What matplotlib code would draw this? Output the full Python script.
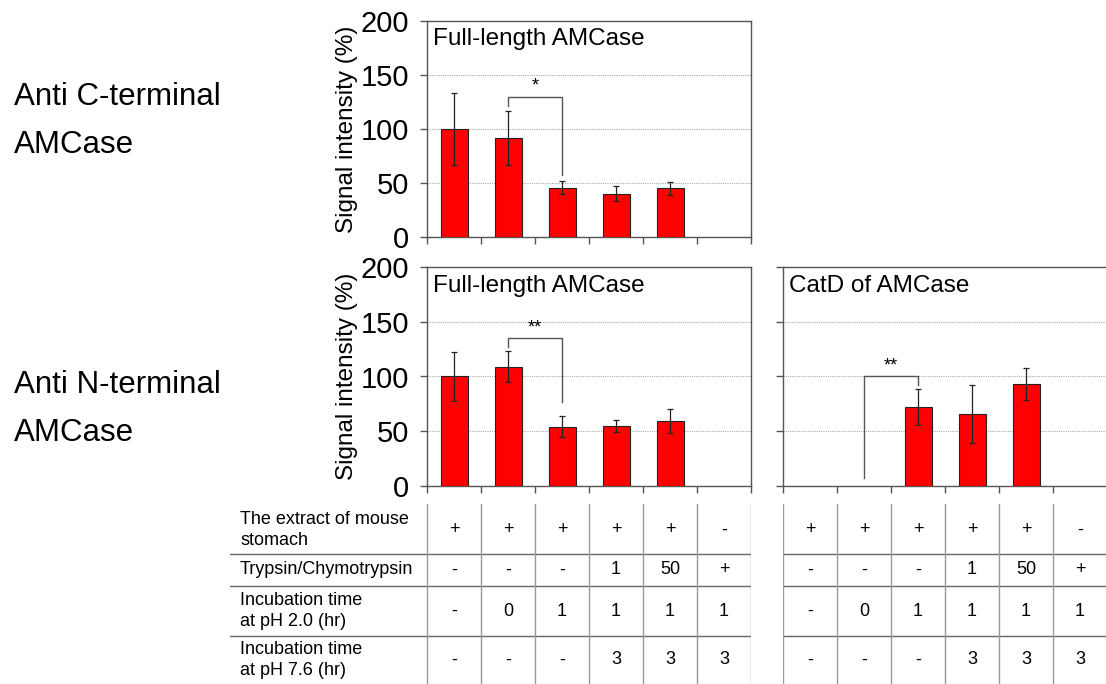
import numpy as np
import matplotlib
matplotlib.use('Agg')
import matplotlib.pyplot as plt

plt.rcParams['font.family'] = ['Liberation Sans', 'DejaVu Sans']

# bar data (signal intensity %, mean and error)
top_vals = [100, 91.5, 45.5, 40, 45, np.nan]
top_err = [33, 25, 6, 7, 6, 0]
mid_vals = [100, 109, 54, 55, 59, np.nan]
mid_err = [22.5, 14, 9.5, 5.5, 11, 0]
catd_vals = [np.nan, np.nan, 72, 65.5, 93, np.nan]
catd_err = [0, 0, 16.5, 26.5, 14.5, 0]

# significance brackets: (x_left, y_left_bottom, x_right, y_right_bottom, y_top, stars)
top_bracket = (1.5, 121, 2.5, 57, 130, '*')
mid_bracket = (1.5, 127, 2.5, 77, 135, '**')
catd_bracket = (1.5, 7, 2.5, 92, 100, '**')

# condition table
row_labels = ['The extract of mouse\nstomach', 'Trypsin/Chymotrypsin',
              'Incubation time\nat pH 2.0 (hr)', 'Incubation time\nat pH 7.6 (hr)']
extract = ['+', '+', '+', '+', '+', '-']
trypsin = ['-', '-', '-', '1', '50', '+']
ph20 = ['-', '0', '1', '1', '1', '1']
ph76 = ['-', '-', '-', '3', '3', '3']
table_rows = [extract, trypsin, ph20, ph76]

W, H = 1106, 684
fig = plt.figure(figsize=(W / 100, H / 100), dpi=100)

def fx(px):
    return px / W

def fy(py):
    return 1 - py / H

spine_col = '#555555'
x = np.arange(6) + 0.5


def bar_panel(rect, vals, errs, title, bracket, ylabels=True):
    ax = fig.add_axes(rect)
    ax.bar(x, vals, width=0.5, color='#ff0000', edgecolor='#222222', linewidth=0.8, zorder=3)
    ax.errorbar(x, vals, yerr=errs, fmt='none', ecolor='#222222', elinewidth=0.9,
                capsize=2, capthick=0.9, zorder=4)
    ax.set_xlim(0, 6)
    ax.set_ylim(0, 200)
    ax.set_xticks(np.arange(7))
    ax.set_xticklabels([])
    ax.set_yticks([0, 50, 100, 150, 200])
    for y in [50, 100, 150]:
        ax.axhline(y, color='#aaaaaa', linestyle=(0, (1, 1)), linewidth=0.8, zorder=1)
    ax.tick_params(direction='out', length=5, width=1, color=spine_col,
                   labelsize=21, pad=8)
    if ylabels:
        ax.set_ylabel('Signal intensity (%)', fontsize=17.5, labelpad=2)
    else:
        ax.set_yticklabels([])
    for s in ax.spines.values():
        s.set_color(spine_col)
        s.set_linewidth(1)
    ax.text(0.02, 0.915, title, transform=ax.transAxes, fontsize=17.5,
            ha='left', va='center')
    xl, yl, xr, yr, yt, stars = bracket
    ax.plot([xl, xl, xr, xr], [yl, yt, yt, yr], color='#555555', linewidth=1, zorder=5)
    ax.text((xl + xr) / 2, yt + 2, stars, fontsize=13, ha='center', va='bottom')
    return ax


ax_top = bar_panel([fx(427), fy(237), fx(751) - fx(427), fy(21) - fy(237)],
                   top_vals, top_err, 'Full-length AMCase', top_bracket)
ax_mid = bar_panel([fx(427), fy(485.7), fx(751) - fx(427), fy(267.3) - fy(485.7)],
                   mid_vals, mid_err, 'Full-length AMCase', mid_bracket)
ax_cat = bar_panel([fx(783), fy(485.7), fx(751) - fx(427), fy(267.3) - fy(485.7)],
                   catd_vals, catd_err, 'CatD of AMCase', catd_bracket, ylabels=False)

fig.text(fx(14), fy(121), 'Anti C-terminal\nAMCase', fontsize=22.5, ha='left',
         va='center', linespacing=1.75)
fig.text(fx(14), fy(409), 'Anti N-terminal\nAMCase', fontsize=22.5, ha='left',
         va='center', linespacing=1.75)

# tables under the lower panels (pixel based y: 504 top, 684 bottom)
row_lines = [554, 586, 636]
row_centers = [530, 570, 611, 660]


def table(left_px, with_labels):
    unit = (751 - 427) / 6
    start = 230 if with_labels else left_px
    ax = fig.add_axes([fx(start), 0, fx(left_px + 324) - fx(start), fy(504)])
    ax.set_xlim(-(left_px - start) / unit, 6)
    ax.set_ylim(684, 504)
    ax.axis('off')
    for yl in row_lines:
        ax.axhline(yl, color='#666666', linewidth=1)
    for k in range(7):
        ax.axvline(k, color='#999999', linewidth=1)
    for r, row in enumerate(table_rows):
        for c, v in enumerate(row):
            ax.text(c + 0.5, row_centers[r], v, fontsize=13, ha='center', va='center')
        if with_labels:
            ax.text(-(left_px - 240) / unit, row_centers[r], row_labels[r], fontsize=13,
                    ha='left', va='center', linespacing=1.3)
    return ax


table(427, True)
table(783, False)

fig.savefig('out.png', dpi=100)
